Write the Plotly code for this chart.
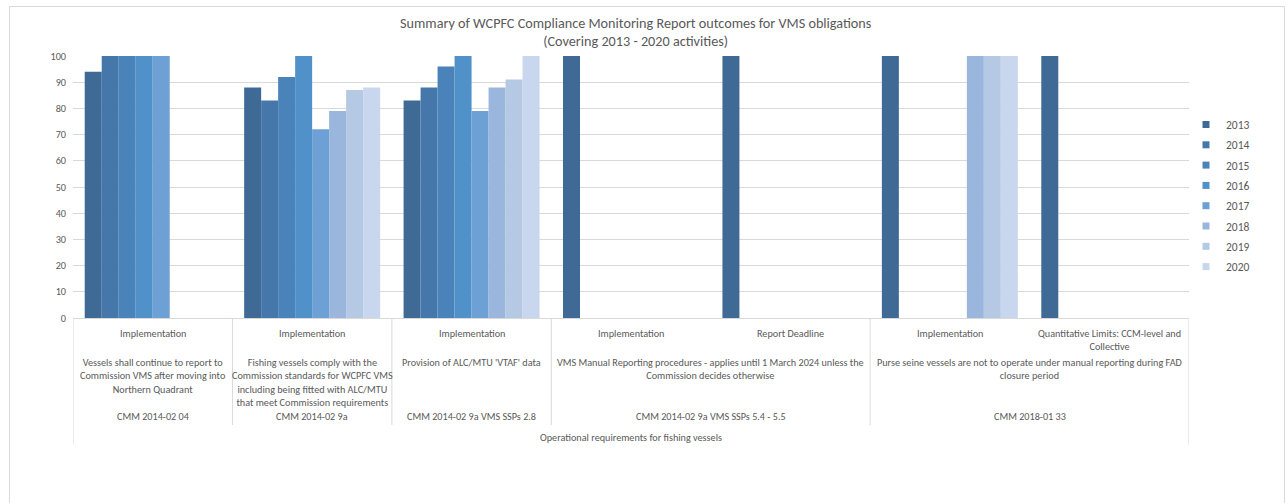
import plotly.graph_objects as go

# ---------------- data ----------------
years = ["2013", "2014", "2015", "2016", "2017", "2018", "2019", "2020"]

leaf_labels = ["Implementation", "Implementation", "Implementation", "Implementation",
               "Report Deadline", "Implementation", "Quantitative Limits: CCM-level and<br>Collective"]

v2013 = [94, 88, 83, 100, 100, 100, 100]
v2014 = [100, 83, 88, None, None, None, None]
v2015 = [100, 92, 96, None, None, None, None]
v2016 = [100, 100, 100, None, None, None, None]
v2017 = [100, 72, 79, None, None, None, None]
v2018 = [None, 79, 88, None, None, 100, None]
v2019 = [None, 87, 91, None, None, 100, None]
v2020 = [None, 88, 100, None, None, 100, None]

# groups: (first leaf index, last leaf index, description, CMM reference)
desc_groups = [
    (0, 0, "Vessels shall continue to report to<br>Commission VMS after moving into<br>Northern Quadrant", "CMM 2014-02 04"),
    (1, 1, "Fishing vessels comply with the<br>Commission standards for WCPFC VMS<br>including being fitted with ALC/MTU<br>that meet Commission requirements", "CMM 2014-02 9a"),
    (2, 2, "Provision of ALC/MTU 'VTAF' data", "CMM 2014-02 9a VMS SSPs 2.8"),
    (3, 4, "VMS Manual Reporting procedures - applies until 1 March 2024 unless the<br>Commission decides otherwise", "CMM 2014-02 9a VMS SSPs 5.4 - 5.5"),
    (5, 6, "Purse seine vessels are not to operate under manual reporting during FAD<br>closure period", "CMM 2018-01 33"),
]
top_group = "Operational requirements for fishing vessels"

title_text = "Summary of WCPFC Compliance Monitoring Report outcomes for VMS obligations<br>(Covering 2013 - 2020 activities)"

colors = ["#3F6A96", "#4677AA", "#4A83B9", "#5191C9", "#6DA1D6", "#9AB6DC", "#B5C9E5", "#C9D7EE"]

series = [v2013, v2014, v2015, v2016, v2017, v2018, v2019, v2020]

# ---------------- layout constants ----------------
W, H = 1287, 503
L, R, T, B = 73, 98, 56, 185
PH = H - T - B
FONT = "Carlito, Lato, 'Open Sans', sans-serif"
GRAY = "#595959"
LINE = "#d9d9d9"
LBL = 10.2


def py(px):
    """pixel row -> paper y"""
    return (H - B - px) / PH


def pxx(px):
    return (px - L) / (W - L - R)


xs = list(range(len(leaf_labels)))

fig = go.Figure()
for yr, vals, col in zip(years, series, colors):
    fig.add_trace(go.Bar(x=xs, y=vals, name=yr, legendgroup=yr, showlegend=False,
                         marker=dict(color=col, line=dict(width=0))))
# legend entries with small square keys
for yr, col in zip(years, colors):
    fig.add_trace(go.Scatter(x=[None], y=[None], mode="markers", name=yr, legendgroup=yr,
                             marker=dict(symbol="square", size=7, color=col)))

ann = []
shapes = []

# leaf labels
for i, lab in enumerate(leaf_labels):
    ann.append(dict(x=i, y=py(325), xref="x", yref="paper", text=lab, showarrow=False,
                    xanchor="center", yanchor="top", font=dict(size=LBL, color=GRAY, family=FONT)))

# description and CMM rows
for a, b, d, c in desc_groups:
    xc = (a + b) / 2
    ann.append(dict(x=xc, y=py(354), xref="x", yref="paper", text=d, showarrow=False,
                    xanchor="center", yanchor="top", font=dict(size=LBL, color=GRAY, family=FONT)))
    ann.append(dict(x=xc, y=py(416), xref="x", yref="paper", text=c, showarrow=False,
                    xanchor="center", yanchor="middle", font=dict(size=LBL, color=GRAY, family=FONT)))
    if a > 0:
        shapes.append(dict(type="line", xref="x", yref="paper", x0=a - 0.5, x1=a - 0.5,
                           y0=py(318), y1=py(425), line=dict(color=LINE, width=1)))

ann.append(dict(x=(len(xs) - 1) / 2, y=py(438), xref="x", yref="paper", text=top_group,
                showarrow=False, xanchor="center", yanchor="middle",
                font=dict(size=LBL, color=GRAY, family=FONT)))

for xe in (-0.5, len(xs) - 0.5):
    shapes.append(dict(type="line", xref="x", yref="paper", x0=xe, x1=xe,
                       y0=py(318), y1=py(445), line=dict(color=LINE, width=1)))

# outer chart border
shapes.append(dict(type="rect", xref="paper", yref="paper", x0=pxx(9.5), x1=pxx(1284.5),
                   y0=py(520), y1=py(6.5), line=dict(color=LINE, width=1), layer="below"))

# chart title
ann.append(dict(x=pxx(635.5), y=py(32.5), xref="paper", yref="paper", text=title_text,
                showarrow=False, xanchor="center", yanchor="middle",
                font=dict(size=14.2, color=GRAY, family=FONT)))

fig.update_layout(
    width=W, height=H,
    margin=dict(l=L, r=R, t=T, b=B, pad=0),
    paper_bgcolor="white", plot_bgcolor="white",
    barmode="group", bargap=0.147, bargroupgap=0,
    xaxis=dict(range=[-0.5, len(xs) - 0.5], showticklabels=False, showgrid=False,
               zeroline=False, showline=True, linecolor=LINE, linewidth=1, ticks=""),
    yaxis=dict(range=[0, 100], dtick=10, showgrid=True, gridcolor=LINE, gridwidth=1,
               zeroline=False, showline=False, ticks="", ticklabelstandoff=6,
               tickfont=dict(size=LBL, color=GRAY, family=FONT)),
    legend=dict(x=pxx(1186), y=py(110), xanchor="left", yanchor="top",
                font=dict(size=11.5, color=GRAY, family=FONT), itemwidth=30,
                bgcolor="rgba(0,0,0,0)", tracegroupgap=1.3),
    annotations=ann, shapes=shapes,
    font=dict(family=FONT),
)

fig.write_html("out.html")
